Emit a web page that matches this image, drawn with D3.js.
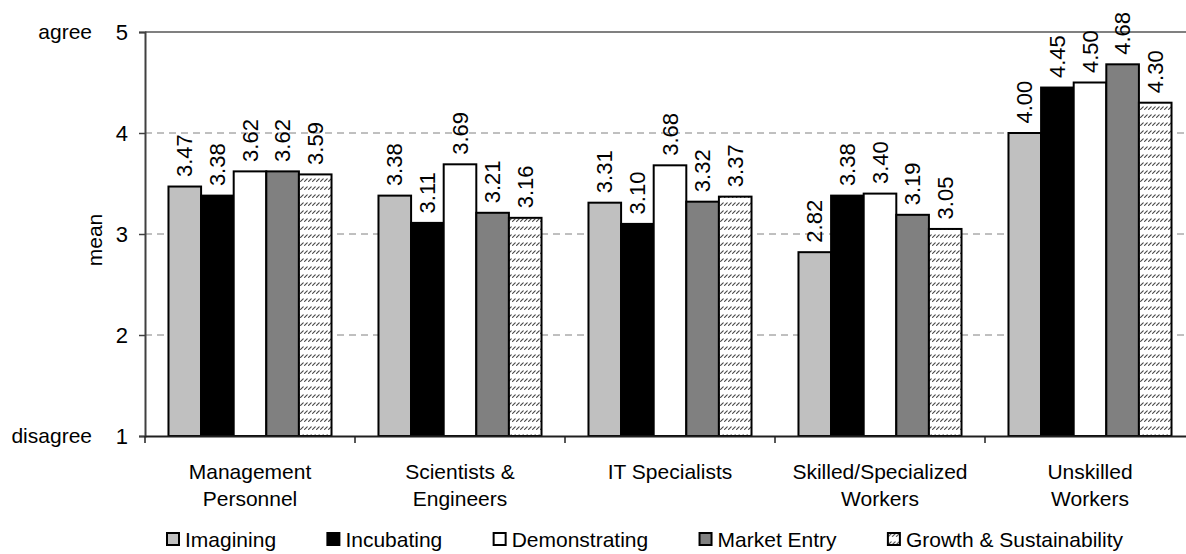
<!DOCTYPE html>
<html><head><meta charset="utf-8">
<script src="https://cdn.jsdelivr.net/npm/d3@7"></script>
<style>
html,body{margin:0;padding:0;background:#fff;}
svg{display:block;font-family:"Liberation Sans",Arial,sans-serif;}
</style></head>
<body><svg id="chart" width="1186" height="554"></svg>
<script>
const categories = [["Management","Personnel"],["Scientists &","Engineers"],["IT Specialists"],["Skilled/Specialized","Workers"],["Unskilled","Workers"]];
const seriesNames = ["Imagining","Incubating","Demonstrating","Market Entry","Growth & Sustainability"];
const imagining     = [3.47, 3.38, 3.31, 2.82, 4.00];
const incubating    = [3.38, 3.11, 3.10, 3.38, 4.45];
const demonstrating = [3.62, 3.69, 3.68, 3.40, 4.50];
const marketEntry   = [3.62, 3.21, 3.32, 3.19, 4.68];
const growth        = [3.59, 3.16, 3.37, 3.05, 4.30];
const yTicks = [1, 2, 3, 4, 5];

(function(){
const seriesValues = [imagining, incubating, demonstrating, marketEntry, growth];
const fills = ["#c0c0c0", "#000000", "#ffffff", "#808080", "url(#hatch)"];

const svg = d3.select("#chart");
const defs = svg.append("defs");
const pat = defs.append("pattern").attr("id","hatch").attr("patternUnits","userSpaceOnUse")
  .attr("width",4).attr("height",8);
pat.append("rect").attr("width",4).attr("height",8).attr("fill","#fff");
pat.append("line").attr("x1",0.6).attr("y1",5.4).attr("x2",3.2).attr("y2",2.8)
  .attr("stroke","#4a4a4a").attr("stroke-width",1.2).attr("stroke-linecap","round");

const pL = 145, pR = 1195, pT = 32, pB = 436;
const catKeys = categories.map((c,i)=>i);
const x0 = d3.scaleBand().domain(catKeys).range([pL,pR]).padding(0);
const x1 = d3.scaleBand().domain(seriesNames).range([0,x0.bandwidth()]).paddingInner(0).paddingOuter(0.72);
const y = d3.scaleLinear().domain([1,5]).range([pB,pT]);

// gridlines
svg.append("g").selectAll("line").data(yTicks.filter(t=>t>1 && t<5)).join("line")
  .attr("x1",pL).attr("x2",pR).attr("y1",d=>y(d)).attr("y2",d=>y(d))
  .attr("stroke","#808080").attr("stroke-width",1).attr("stroke-dasharray","7,5");
svg.append("line").attr("x1",pL).attr("x2",pR).attr("y1",y(5)).attr("y2",y(5))
  .attr("stroke","#808080").attr("stroke-width",2);

// bars
const rows = [];
categories.forEach((c,ci)=>seriesNames.forEach((s,si)=>rows.push({ci,si,s,v:seriesValues[si][ci]})));
svg.append("g").selectAll("rect").data(rows).join("rect")
  .attr("x",d=>x0(d.ci)+x1(d.s)).attr("width",x1.bandwidth())
  .attr("y",d=>y(d.v)).attr("height",d=>y(1)-y(d.v))
  .attr("fill",d=>fills[d.si]).attr("stroke","#000").attr("stroke-width",2);

// value labels
svg.append("g").selectAll("text").data(rows).join("text")
  .attr("transform",d=>`translate(${x0(d.ci)+x1(d.s)+x1.bandwidth()/2},${y(d.v)-9.5}) rotate(-90)`)
  .attr("dy","0.35em").attr("text-anchor","start")
  .attr("font-size",22).attr("fill","#000").text(d=>d.v.toFixed(2));

// y axis
const yAxis = d3.axisLeft(y).tickValues(yTicks).tickSize(6).tickPadding(11).tickFormat(d3.format("d"));
const ga = svg.append("g").attr("transform",`translate(${pL},0)`).call(yAxis);
ga.select(".domain").attr("stroke","#404040").attr("stroke-width",2);
ga.selectAll(".tick line").attr("stroke","#404040").attr("stroke-width",1.5);
ga.selectAll(".tick text").attr("font-size",22).attr("font-family","Liberation Sans, Arial, sans-serif").attr("fill","#000");

// x axis
const xAxis = d3.axisBottom(x0).tickSize(0).tickFormat("");
const gx = svg.append("g").attr("transform",`translate(0,${pB})`).call(xAxis);
gx.select(".domain").attr("stroke","#202020").attr("stroke-width",2);
const bounds = d3.range(categories.length+1).map(i=>pL+i*x0.step());
svg.append("g").selectAll("line").data(bounds).join("line")
  .attr("x1",d=>d).attr("x2",d=>d).attr("y1",pB).attr("y2",pB+7)
  .attr("stroke","#202020").attr("stroke-width",1.5);

// category labels
const cl = svg.append("g").selectAll("text").data(categories).join("text")
  .attr("text-anchor","middle").attr("font-size",21).attr("fill","#000");
cl.each(function(d,i){
  const t = d3.select(this);
  d.forEach((line,li)=>t.append("tspan").attr("x",x0(i)+x0.bandwidth()/2).attr("y",479+li*27).text(line));
});

// axis side labels
svg.append("text").attr("x",92).attr("y",y(5)).attr("dy","0.35em").attr("text-anchor","end")
  .attr("font-size",21).text("agree");
svg.append("text").attr("x",92).attr("y",y(1)).attr("dy","0.35em").attr("text-anchor","end")
  .attr("font-size",21).text("disagree");
svg.append("text").attr("transform",`translate(102,${(y(1)+y(5))/2+6}) rotate(-90)`)
  .attr("text-anchor","middle").attr("font-size",21).text("mean");

// legend
const lg = svg.append("g");
const items = seriesNames.map((s,i)=>{
  const g = lg.append("g");
  g.append("rect").attr("x",0).attr("y",-14).attr("width",12).attr("height",12)
    .attr("fill",fills[i]).attr("stroke","#000").attr("stroke-width",2);
  const t = g.append("text").attr("x",18).attr("y",0).attr("font-size",21).text(s);
  return {g, w: 18 + t.node().getComputedTextLength()};
});
const lStart = 167, lEnd = 1123;
const gap = (lEnd - lStart - d3.sum(items,d=>d.w)) / (items.length-1);
let cx = lStart;
items.forEach(it=>{ it.g.attr("transform",`translate(${cx},547)`); cx += it.w + gap; });
})();
</script></body></html>
